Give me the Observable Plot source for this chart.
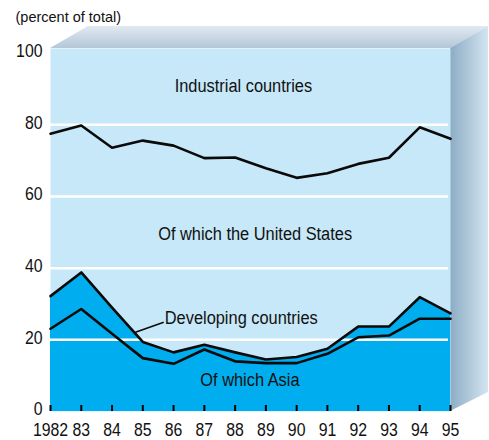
<!DOCTYPE html>
<html>
<head>
<meta charset="utf-8">
<script src="https://cdn.jsdelivr.net/npm/d3@7"></script>
<script src="https://cdn.jsdelivr.net/npm/@observablehq/plot@0.6"></script>
<style>
  html, body { margin: 0; padding: 0; background: #fff; }
  #chart { width: 489px; height: 440px; }
</style>
</head>
<body>
<div id="chart"></div>
<script>
// ---- data ----
const years = [1982, 1983, 1984, 1985, 1986, 1987, 1988, 1989, 1990, 1991, 1992, 1993, 1994, 1995];
const yearLabels = ["1982", "83", "84", "85", "86", "87", "88", "89", "90", "91", "92", "93", "94", "95"];
const industrial = [77.5, 79.8, 73.6, 75.6, 74.2, 70.7, 70.9, 67.9, 65.2, 66.5, 69.1, 70.8, 79.3, 76.1];
const developing = [32.2, 38.8, 29.0, 19.4, 16.5, 18.6, 16.5, 14.5, 15.2, 17.5, 23.7, 23.7, 31.9, 27.4];
const asia = [23.1, 28.6, 21.7, 14.9, 13.3, 17.3, 14.0, 13.5, 13.5, 16.1, 20.7, 21.2, 25.9, 25.9];
const yTicks = [0, 20, 40, 60, 80, 100];
const gridValues = [20, 40, 60, 80];
const labelTexts = ["Industrial countries", "Of which the United States", "Developing countries", "Of which Asia"];
const labelX = [1988.27, 1988.65, 1988.2, 1988.48];
const labelY = [90.9, 49.6, 25.9, 8.6];
const leader = [{x1: 1985.68, y1: 24.9, x2: 1984.76, y2: 22.1}];
const subtitle = "(percent of total)";

// ---- build tables ----
const rows = years.map((yr, i) => ({year: yr, industrial: industrial[i], developing: developing[i], asia: asia[i]}));
const labels = labelTexts.map((t, i) => ({text: t, x: labelX[i], y: labelY[i]}));

const FONT = "'Liberation Sans', Arial, Helvetica, sans-serif";
const yTop = 101.3;

const plot = Plot.plot({
  width: 489,
  height: 440,
  marginLeft: 50,
  marginRight: 39,
  marginTop: 48,
  marginBottom: 29,
  style: {fontFamily: FONT, fontSize: "18px", background: "transparent", color: "#111"},
  x: {domain: [1982, 1995]},
  y: {domain: [0, yTop]},
  marks: [
    Plot.frame({fill: "#c7e8f8", stroke: "none"}),
    Plot.areaY(rows, {x: "year", y: "developing", fill: "#00aeef", curve: "linear"}),
    Plot.ruleY(gridValues, {stroke: "#ffffff", strokeWidth: 2.5, insetRight: 2}),
    Plot.line(rows, {x: "year", y: "industrial", stroke: "#0a0a0a", strokeWidth: 2.6}),
    Plot.line(rows, {x: "year", y: "developing", stroke: "#0a0a0a", strokeWidth: 2.6}),
    Plot.line(rows, {x: "year", y: "asia", stroke: "#0a0a0a", strokeWidth: 2.6}),
    Plot.link(leader, {x1: "x1", y1: "y1", x2: "x2", y2: "y2", stroke: "#0a0a0a", strokeWidth: 1.6}),
    Plot.text(labels, {x: "x", y: "y", text: "text", fill: "#111", fontSize: 18}),
    Plot.axisY({ticks: yTicks, tickSize: 0, tickPadding: 8, label: null, fontSize: 18, dy: -2}),
    Plot.axisX({ticks: years, tickSize: -6, tickPadding: 0, stroke: "#000", strokeWidth: 2, text: null, label: null}),
    Plot.axisX({ticks: years, tickSize: 0, tickPadding: 12, label: null, fontSize: 18,
      tickFormat: (d) => yearLabels[years.indexOf(d)]}),
    Plot.text([subtitle], {frameAnchor: "top-left", dx: -35, dy: -27, textAnchor: "start", lineAnchor: "bottom", fontSize: 14.5, fill: "#111"})
  ]
});

// ---- 3D box faces (top and right side), computed from the scales ----
const sx = plot.scale("x"), sy = plot.scale("y");
const x0 = sx.apply(1982), x1 = sx.apply(1995);
const yT = sy.apply(yTop), yB = sy.apply(0);
const ddx = 38, ddy = -22;
const svg = d3.select(plot);
const defs = svg.insert("defs", ":first-child");
const gTop = defs.append("linearGradient").attr("id", "gTop").attr("x1", 0).attr("y1", 0).attr("x2", 0).attr("y2", 1);
gTop.append("stop").attr("offset", 0).attr("stop-color", "#e0e9f1");
gTop.append("stop").attr("offset", 1).attr("stop-color", "#b4c7d7");
const gSide = defs.append("linearGradient").attr("id", "gSide").attr("x1", 0).attr("y1", 0).attr("x2", 1).attr("y2", 0);
gSide.append("stop").attr("offset", 0).attr("stop-color", "#8cacc5");
gSide.append("stop").attr("offset", 1).attr("stop-color", "#d3e5f0");
const faces = svg.insert("g", "defs + *");
faces.append("polygon")
  .attr("points", [[x0, yT], [x0 + ddx, yT + ddy], [x1 + ddx, yT + ddy], [x1, yT]].map(p => p.join(",")).join(" "))
  .attr("fill", "url(#gTop)");
faces.append("polygon")
  .attr("points", [[x1, yT], [x1 + ddx, yT + ddy], [x1 + ddx, yB + ddy + 3], [x1, yB]].map(p => p.join(",")).join(" "))
  .attr("fill", "url(#gSide)");

document.getElementById("chart").appendChild(plot);

// condensed look: narrow the 18px texts horizontally (the reference uses a condensed face)
svg.selectAll("text").each(function () {
  if (this.textContent === subtitle) return;
  const w = this.getComputedTextLength();
  if (w > 0) {
    const k = /^\d+$/.test(this.textContent) ? 0.88 : 0.91;
    this.setAttribute("textLength", (w * k).toFixed(1));
    this.setAttribute("lengthAdjust", "spacingAndGlyphs");
  }
});
</script>
</body>
</html>
